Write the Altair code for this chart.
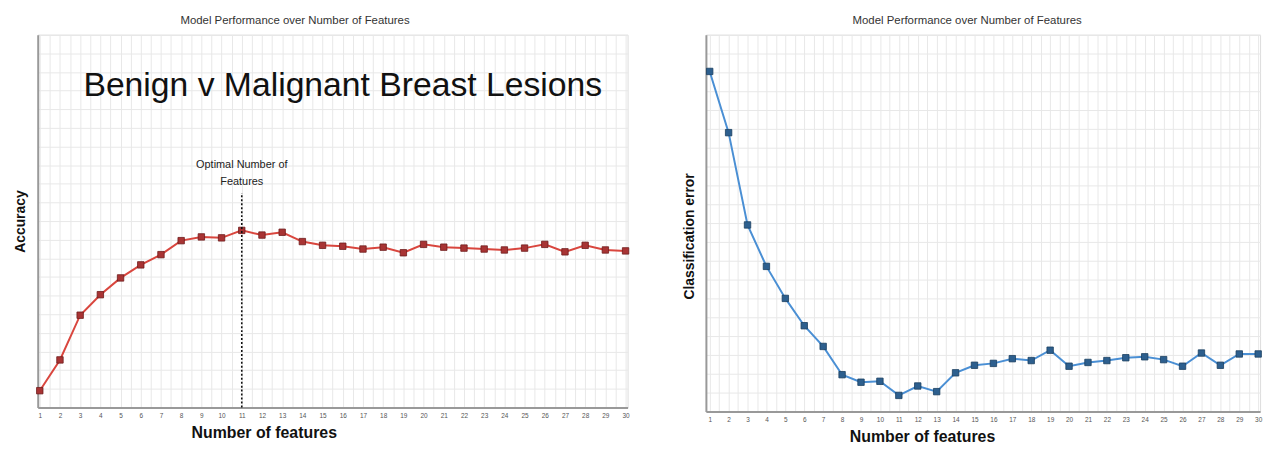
import altair as alt
import pandas as pd

features = list(range(1, 31))
accuracy = [0.618, 0.651, 0.699, 0.721, 0.739, 0.753, 0.764, 0.779, 0.783, 0.782,
            0.790, 0.785, 0.788, 0.778, 0.774, 0.773, 0.770, 0.772, 0.766, 0.775,
            0.772, 0.771, 0.770, 0.769, 0.771, 0.775, 0.767, 0.774, 0.769, 0.768]
error = [0.361, 0.296, 0.198, 0.154, 0.120, 0.091, 0.069, 0.039, 0.031, 0.032,
         0.017, 0.027, 0.021, 0.041, 0.049, 0.051, 0.056, 0.054, 0.065, 0.048,
         0.052, 0.054, 0.057, 0.058, 0.055, 0.048, 0.062, 0.049, 0.061, 0.061]
optimal_feature = [11]
optimal_rule_top = [0.830]
optimal_label = ["Optimal Number of", "Features"]
optimal_label_y = [0.855]
big_title = ["Benign v Malignant Breast Lesions"]
big_title_pos = [16.0, 0.945]
chart_title = "Model Performance over Number of Features"

FONT = "Liberation Sans"

df_acc = pd.DataFrame({"n": features, "acc": accuracy})
df_err = pd.DataFrame({"n": features, "err": error})

x_grid_vals = [v / 2 for v in range(2, 61)]
label_expr = "datum.value % 1 == 0 ? format(datum.value, 'd') : ''"


def x_enc(title_x, lo):
    return alt.X(
        "n:Q",
        scale=alt.Scale(domain=[lo, 30.1], nice=False, zero=False),
        axis=alt.Axis(
            values=x_grid_vals, labelExpr=label_expr, title="Number of features",
            ticks=False, labelFontSize=6.5, labelColor="#555", labelPadding=5,
            labelOverlap=False, labelFlush=False,
            titleFontSize=16, titleFontWeight="bold", titleColor="#111",
            titleX=title_x, titlePadding=6, grid=True, gridColor="#e8e8e8",
            domainColor="#999", domainWidth=2, labelFont=FONT, titleFont=FONT,
        ),
    )


def y_enc(field, title, domain, vals, title_y=None):
    kw = {}
    if title_y is not None:
        kw["titleY"] = title_y
    return alt.Y(
        f"{field}:Q",
        scale=alt.Scale(domain=domain, nice=False, zero=False),
        axis=alt.Axis(
            values=vals, labels=False, ticks=False, title=title,
            titleFontSize=14, titleFontWeight="bold", titleColor="#111",
            titlePadding=10, grid=True, gridColor="#e8e8e8",
            domainColor="#999", domainWidth=2, titleFont=FONT, **kw,
        ),
    )


acc_grid = [round(0.60 + 0.02 * i, 2) for i in range(21)]
err_grid = [round(0.02 * i, 2) for i in range(21)]

xl = x_enc(228, 0.9)
yl = y_enc("acc", "Accuracy", [0.60, 1.00], acc_grid)

base_l = alt.Chart(df_acc).encode(x=xl, y=yl)
line_l = base_l.mark_line(color="#d9463e", strokeWidth=2)
pts_l = base_l.mark_point(shape="square", filled=True, size=42, color="#a83434",
                          stroke="#6e1c1c", strokeWidth=0.8, opacity=1)

rule_df = pd.DataFrame({"n": optimal_feature, "acc": [0.60], "hi": optimal_rule_top})
rule = alt.Chart(rule_df).mark_rule(color="#111", strokeDash=[2, 2], strokeWidth=1.6).encode(
    x=xl, y=yl, y2="hi:Q")

ann_df = pd.DataFrame({"n": optimal_feature, "acc": optimal_label_y, "t": [optimal_label]})
ann = alt.Chart(ann_df).mark_text(fontSize=11, font=FONT, color="#222", baseline="bottom",
                                  align="center", lineHeight=17).encode(
    x=xl, y=yl, text="t")

bt_df = pd.DataFrame({"n": [big_title_pos[0]], "acc": [big_title_pos[1]], "t": big_title})
bt = alt.Chart(bt_df).mark_text(fontSize=34, font=FONT, color="#111", baseline="middle",
                                align="center").encode(x=xl, y=yl, text="t:N")

left = alt.layer(line_l, pts_l, rule, ann, bt).properties(
    width=595, height=376,
    title=alt.TitleParams(chart_title, fontSize=11.5, font=FONT, fontWeight="normal",
                          color="#333", dx=-38, offset=8),
)

xr = x_enc(218, 0.8)
yr = y_enc("err", "Classification error", [0.0, 0.40], err_grid, title_y=203)
base_r = alt.Chart(df_err).encode(x=xr, y=yr)
line_r = base_r.mark_line(color="#4a8fd4", strokeWidth=2)
pts_r = base_r.mark_point(shape="square", filled=True, size=42, color="#2d5f8e",
                          stroke="#1b3f60", strokeWidth=0.8, opacity=1)

right = alt.layer(line_r, pts_r).properties(
    width=559, height=380,
    title=alt.TitleParams(chart_title, fontSize=11.5, font=FONT, fontWeight="normal",
                          color="#333", dx=-16, offset=8),
)

chart = alt.hconcat(left, right, spacing=50).configure_view(
    stroke="#dddddd", strokeWidth=1.5
).configure_axis(labelOverlap=False).configure(
    padding={"left": 5, "top": 5, "right": 5, "bottom": 5})

chart.save("out.html", embed_options={"renderer": "svg", "actions": False})
